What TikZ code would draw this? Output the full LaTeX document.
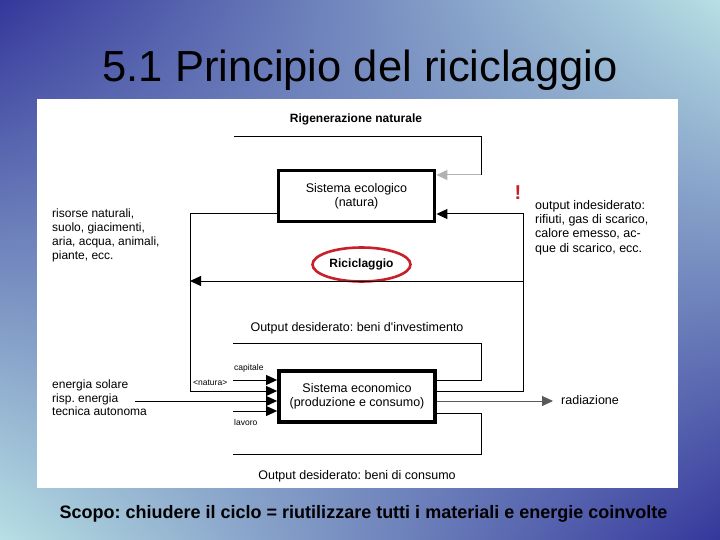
\documentclass[tikz,border=0pt]{standalone}
\usepackage{fontspec}
\setmainfont{Liberation Sans}
\usetikzlibrary{arrows.meta,shapes.geometric,shadings}
\definecolor{bgdark}{HTML}{34379B}
\definecolor{bglight}{HTML}{B7E0E4}
\definecolor{rgred}{HTML}{C8202A}
\frenchspacing
\begin{document}
\frenchspacing
\begin{tikzpicture}[x=1pt,y=-1pt,
  ln/.style={line width=1pt},
  arr/.style={-{Triangle[length=11pt,width=10pt]}},
  sysbox/.style={draw,line width=3.8pt,minimum width=156pt,minimum height=51pt,align=center,inner sep=0pt,font=\fontsize{12.5}{14}\selectfont},
  lbl/.style={inner sep=0pt,anchor=base,font=\fontsize{12.5}{14.5}\selectfont},
  side/.style={inner sep=0pt,align=left,anchor=west,font=\fontsize{12}{14.2}\selectfont},
  tinylbl/.style={inner sep=0pt,anchor=base west,font=\fontsize{8.5}{10}\selectfont},
  boldlbl/.style={inner sep=0pt,anchor=base,font=\bfseries\fontsize{12}{14}\selectfont}]
\useasboundingbox (0,0) rectangle (720,540);
\shade[upper left=bgdark,upper right=bglight,lower left=bglight,lower right=bgdark] (0,0) rectangle (720,540);
\fill[white] (37,99) rectangle (678,488);

% titles
\node[inner sep=0pt,anchor=base,font=\fontsize{43.5}{50}\selectfont] (title) at (360,82) {5.1 Principio del riciclaggio};
\node[inner sep=0pt,anchor=base,font=\bfseries\fontsize{18}{20}\selectfont] (scopo) at (363.5,518.5) {Scopo: chiudere il ciclo = riutilizzare tutti i materiali e energie coinvolte};

% boxes
\node[sysbox] (eco) at (356.5,196) {Sistema ecologico\\(natura)};
\node[sysbox] (econ) at (357,396.5) {Sistema economico\\(produzione e consumo)};

% labels
\node[boldlbl] (rig) at (356,122.5) {Rigenerazione naturale};
\node[inner sep=0pt,font=\bfseries\fontsize{12}{14}\selectfont,ellipse,draw=rgred,line width=2.6pt,minimum width=98pt,minimum height=34pt] (ric) at (361.5,264.5) {Riciclaggio};
\node[inner sep=0pt,anchor=base,text=rgred,font=\bfseries\fontsize{20}{22}\selectfont] (excl) at (518,200) {!};
\node[side] (risorse) at (52,235.5) {risorse naturali,\\suolo, giacimenti,\\aria, acqua, animali,\\piante, ecc.};
\node[side,font=\fontsize{12.5}{14.3}\selectfont] (indes) at (535,227.5) {output indesiderato:\\rifiuti, gas di scarico,\\calore emesso, ac-\\que di scarico, ecc.};
\node[side,font=\fontsize{12}{13.5}\selectfont] (energia) at (52,398) {energia solare\\risp. energia\\tecnica autonoma};
\node[lbl] (outinv) at (357,331) {Output desiderato: beni d\textquotesingle investimento};
\node[lbl] (outcon) at (357,479) {Output desiderato: beni di consumo};
\node[lbl,anchor=base west] (rad) at (561,404.5) {radiazione};
\node[tinylbl] (capl) at (234,370.5) {capitale};
\node[tinylbl] (natl) at (193,385.5) {<natura>};
\node[tinylbl] (lavl) at (234,425) {lavoro};

% coordinates
\coordinate (rgA) at (234,137);
\coordinate (rgB) at (481,137);
\coordinate (rgC) at (481,175);
\coordinate (oiA) at (523,391);
\coordinate (oiB) at (523,214);
\coordinate (rcR) at (523,281);
\coordinate (rcL) at (190,281);
\coordinate (ntA) at (190,214);
\coordinate (ntB) at (190,391);
\coordinate (capS) at (233,380);
\coordinate (enS) at (135,401);
\coordinate (lavS) at (233,411);
\coordinate (invA) at (481,380);
\coordinate (invB) at (481,343);
\coordinate (invE) at (233,343);
\coordinate (conA) at (481,413);
\coordinate (conB) at (481,454);
\coordinate (conE) at (233,454);
\coordinate (radE) at (553,401);

% connectors
\draw[ln] (rgA) -- (rgB) -- (rgC);
\draw[ln,gray!60,arr] (rgC) -- (eco.east |- rgC);
\draw[ln,arr] (econ.east |- oiA) -- (oiA) -- (oiB) -- (eco.east |- oiB);
\draw[ln,arr] (rcR) -- (rcL);
\draw[ln,arr] (eco.west |- ntA) -- (ntA) -- (ntB) -- (econ.west |- ntB);
\draw[ln,arr] (capS) -- (econ.west |- capS);
\draw[ln,arr] (enS) -- (econ.west |- enS);
\draw[ln,arr] (lavS) -- (econ.west |- lavS);
\draw[ln] (econ.east |- invA) -- (invA) -- (invB) -- (invE);
\draw[ln] (econ.east |- conA) -- (conA) -- (conB) -- (conE);
\draw[ln,gray!70!black,arr] (econ.east |- radE) -- (radE);
\end{tikzpicture}
\end{document}
